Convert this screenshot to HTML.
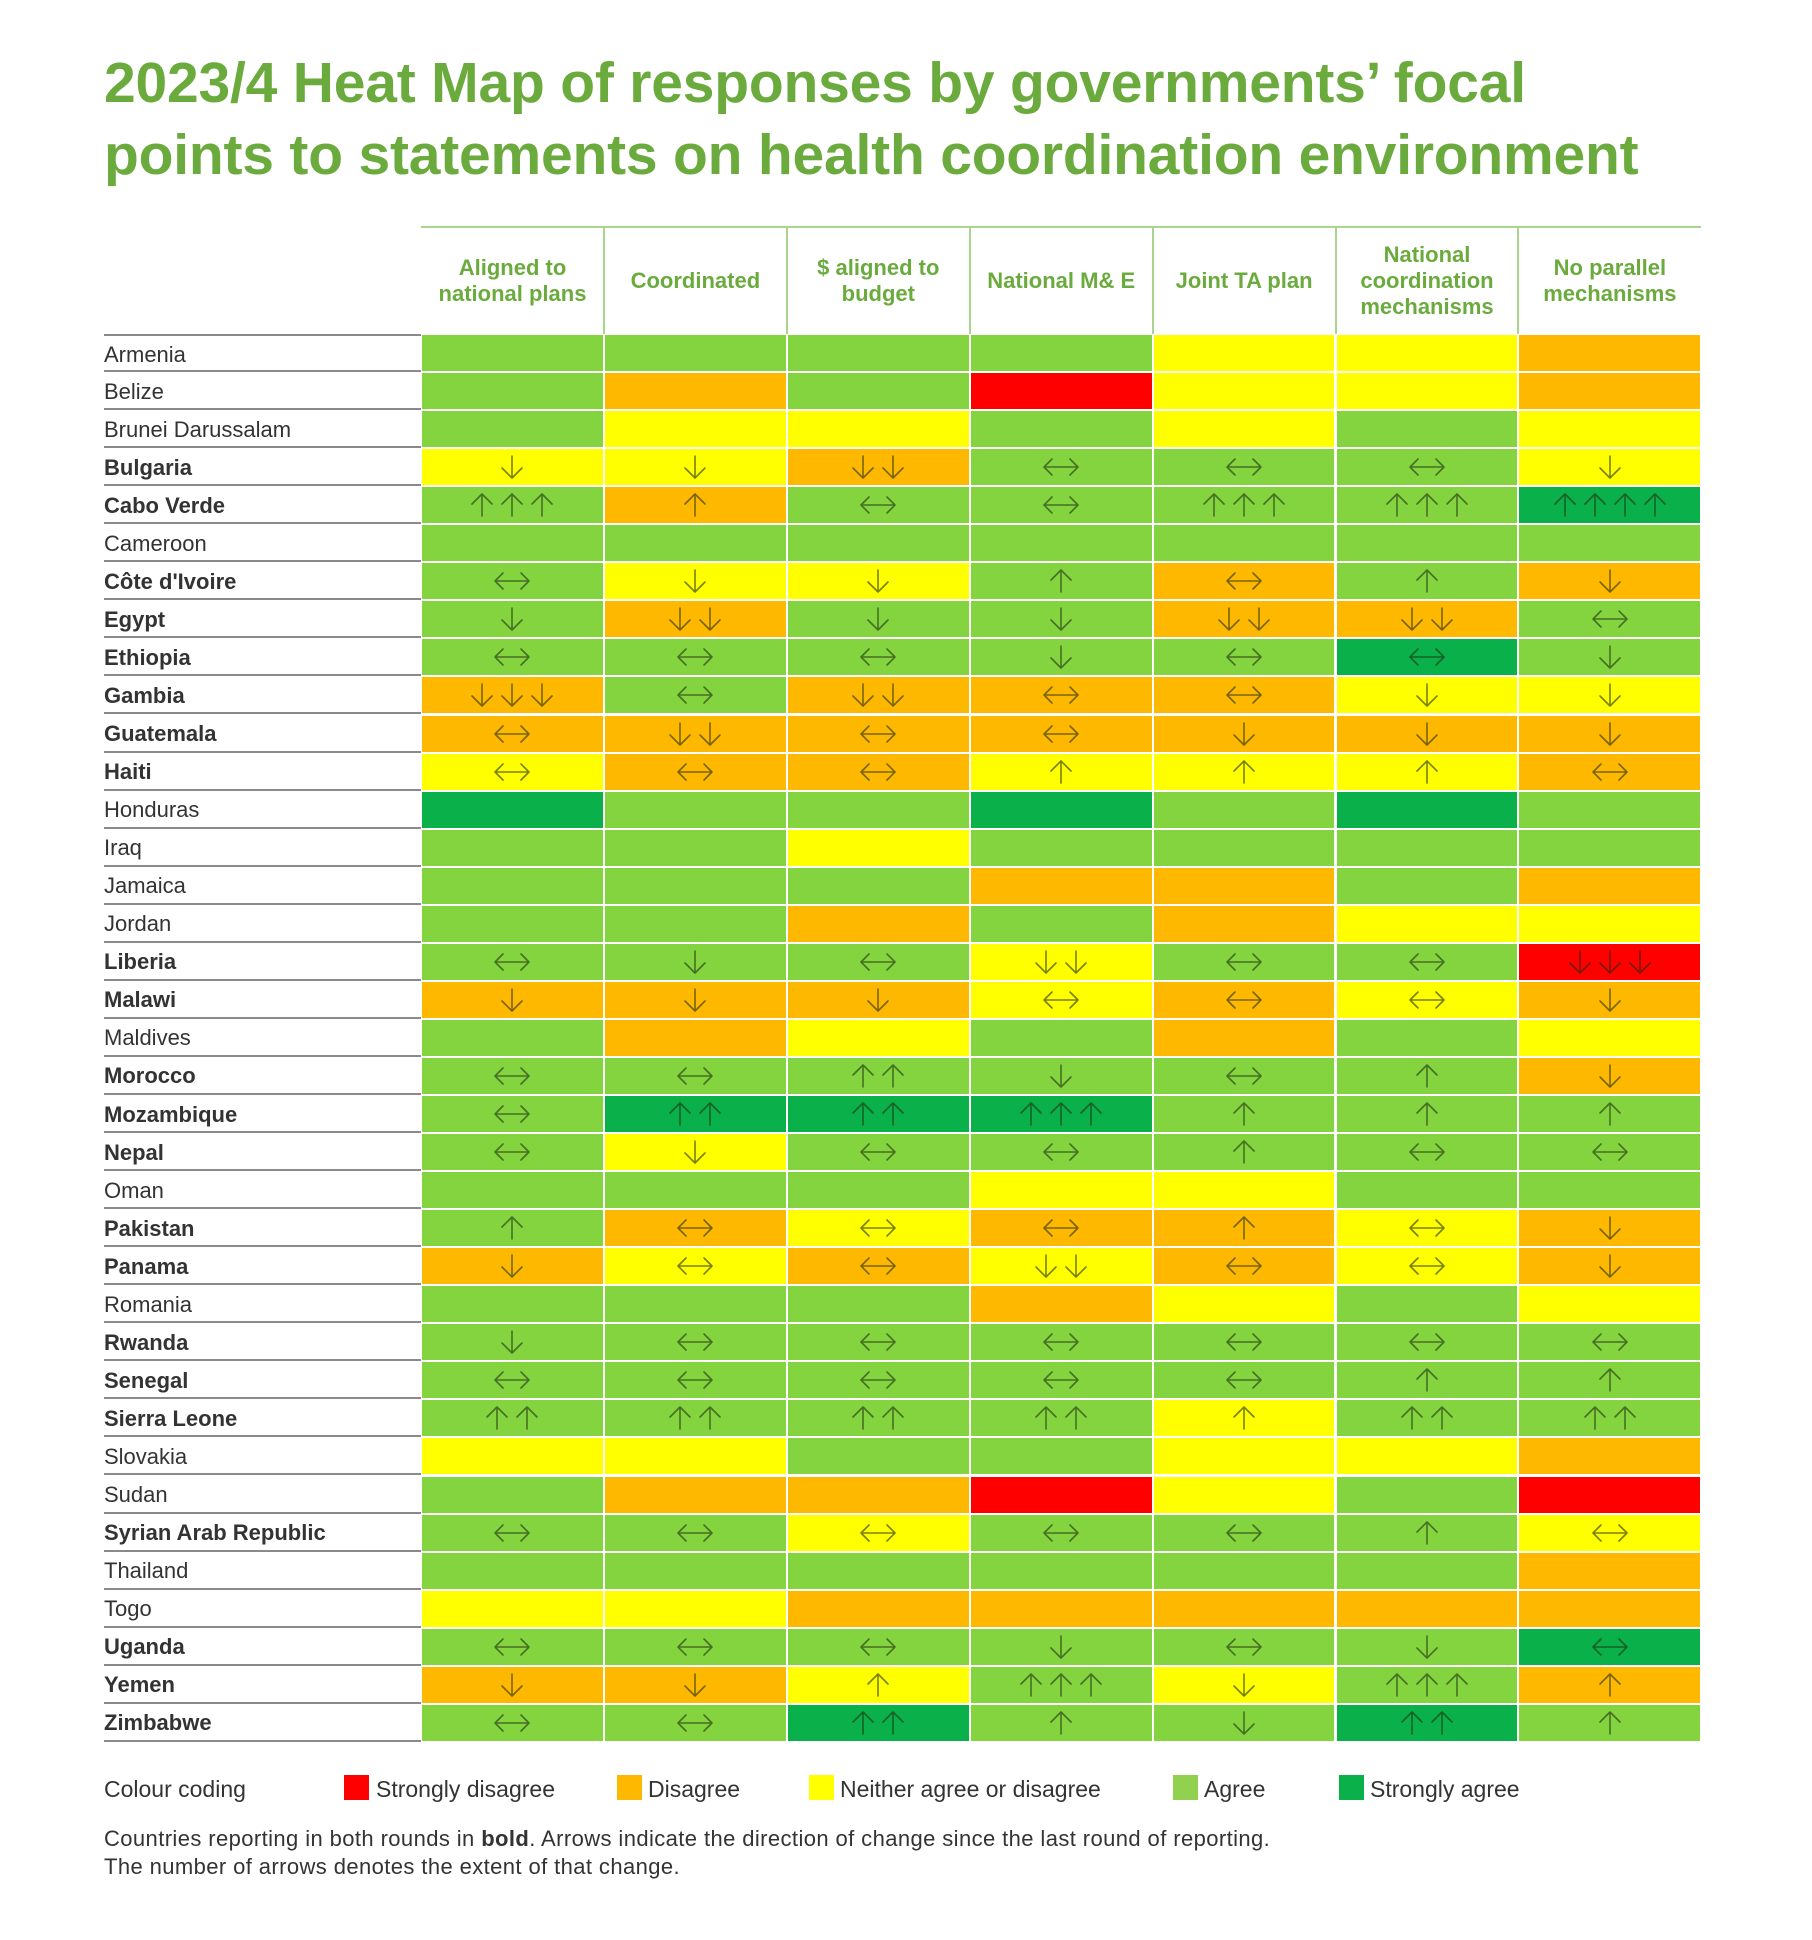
<!DOCTYPE html>
<html><head><meta charset="utf-8">
<style>
body{margin:0;background:#fff;width:1812px;height:1940px;position:relative;overflow:hidden;font-family:"Liberation Sans",sans-serif;}
.abs{position:absolute}
.title{left:104px;font-size:57px;font-weight:bold;color:#6bab3e;white-space:nowrap;letter-spacing:-0.2px}
.hdr{position:absolute;top:228px;height:106px;width:183px;display:flex;align-items:center;justify-content:center;text-align:center;color:#6bab3e;font-weight:bold;font-size:22px;line-height:26px}
.vline{position:absolute;top:228px;height:106px;width:2px;background:#a9d68e}
.lbl{position:absolute;left:104px;width:317px;font-size:22px;color:#333;display:flex;align-items:center;border-bottom:2px solid #8a8a8a;box-sizing:border-box;padding-top:3px}
.cell{position:absolute;display:flex;align-items:center;justify-content:center}
.leg{position:absolute;top:1776px;font-size:23px;color:#333;white-space:nowrap}
.sw{position:absolute;top:1775px;width:25px;height:25px}
.note{position:absolute;left:104px;font-size:22px;color:#333;white-space:nowrap;letter-spacing:0.4px}
</style></head>
<body>
<div class="abs title" style="top:50px">2023/4 Heat Map of responses by governments’ focal</div>
<div class="abs title" style="top:122px">points to statements on health coordination environment</div>
<div class="abs" style="left:421px;top:226px;width:1280px;height:2px;background:#a9d68e"></div>
<div id="chart"></div>

<div class="leg" style="left:104px">Colour coding</div>
<div class="sw" style="left:344px;background:#ff0000"></div>
<div class="leg" style="left:376px">Strongly disagree</div>
<div class="sw" style="left:617px;background:#ffb800"></div>
<div class="leg" style="left:648px">Disagree</div>
<div class="sw" style="left:809px;background:#ffff00"></div>
<div class="leg" style="left:840px">Neither agree or disagree</div>
<div class="sw" style="left:1173px;background:#92d050"></div>
<div class="leg" style="left:1204px">Agree</div>
<div class="sw" style="left:1339px;background:#0ab04a"></div>
<div class="leg" style="left:1370px">Strongly agree</div>

<div class="note" style="top:1826px">Countries reporting in both rounds in <b>bold</b>. Arrows indicate the direction of change since the last round of reporting.</div>
<div class="note" style="top:1854px">The number of arrows denotes the extent of that change.</div>

<script>
const columns = ["Aligned to<br>national plans","Coordinated","$ aligned to<br>budget","National M&amp; E","Joint TA plan","National<br>coordination<br>mechanisms","No parallel<br>mechanisms"];
const countries = ["Armenia","Belize","Brunei Darussalam","Bulgaria","Cabo Verde","Cameroon","Côte d'Ivoire","Egypt","Ethiopia","Gambia","Guatemala","Haiti","Honduras","Iraq","Jamaica","Jordan","Liberia","Malawi","Maldives","Morocco","Mozambique","Nepal","Oman","Pakistan","Panama","Romania","Rwanda","Senegal","Sierra Leone","Slovakia","Sudan","Syrian Arab Republic","Thailand","Togo","Uganda","Yemen","Zimbabwe"];
// response codes: R strongly disagree, O disagree, Y neither, G agree, S strongly agree
const responses = [
"G G G G Y Y O","G O G R Y Y O","G Y Y G Y G Y","Y Y O G G G Y","G O G G G G S","G G G G G G G",
"G Y Y G O G O","G O G G O O G","G G G G G S G","O G O O O Y Y","O O O O O O O","Y O O Y Y Y O",
"S G G S G S G","G G Y G G G G","G G G O O G O","G G O G O Y Y","G G G Y G G R","O O O Y O Y O",
"G O Y G O G Y","G G G G G G O","G S S S G G G","G Y G G G G G","G G G Y Y G G","G O Y O O Y O",
"O Y O Y O Y O","G G G O Y G Y","G G G G G G G","G G G G G G G","G G G G Y G G","Y Y G G Y Y O",
"G O O R Y G R","G G Y G G G Y","G G G G G G O","Y Y O O O O O","G G G G G G S","O O Y G Y G O","G G S G G S G"];
// change codes: number of arrows, d=down u=up h=no change, "-" = no data
const changes = [
"- - - - - - -","- - - - - - -","- - - - - - -","d d dd h h h d","uuu u h h uuu uuu uuuu","- - - - - - -",
"h d d u h u d","d dd d d dd dd h","h h h d h h d","ddd h dd h h d d","h dd h h d d d","h h h u u u h",
"- - - - - - -","- - - - - - -","- - - - - - -","- - - - - - -","h d h dd h h ddd","d d d h h h d",
"- - - - - - -","h h uu d h u d","h uu uu uuu u u u","h d h h u h h","- - - - - - -","u h h h u h d",
"d h h dd h h d","- - - - - - -","d h h h h h h","h h h h h u u","uu uu uu uu u uu uu","- - - - - - -",
"- - - - - - -","h h h h h u h","- - - - - - -","- - - - - - -","h h h d h d h","d d u uuu d uuu u","h h uu u d uu u"];

const colors = {R:"#ff0000",O:"#ffb800",Y:"#ffff00",G:"#84d440",S:"#0ab04a"};
const X0=421, COLW=182.9, Y0=334, ROWH=38.05;
const xPos = c => X0 + c*COLW;
const yPos = r => Y0 + r*ROWH;
const ST='stroke="rgba(30,45,15,0.6)" stroke-width="1.6" fill="none" stroke-linecap="round" stroke-linejoin="round"';
function arrowSvg(code){
  if(code==="-") return "";
  if(code==="h") return '<svg width="40" height="24" viewBox="0 0 40 24"><path d="M3 12 H37 M11 4 L3 12 L11 20 M29 4 L37 12 L29 20" '+ST+'/></svg>';
  const n=code.length, step=30, w=(n-1)*step+24;
  let p="";
  for(let i=0;i<n;i++){
    const cx=12+i*step;
    if(code[i]==="d") p+=`M${cx} 1 V23 M${cx-10} 13 L${cx} 23 L${cx+10} 13 `;
    else p+=`M${cx} 23 V1 M${cx-10} 11 L${cx} 1 L${cx+10} 11 `;
  }
  return `<svg width="${w}" height="24" viewBox="0 0 ${w} 24"><path d="${p}" ${ST}/></svg>`;
}
const root=document.getElementById('chart');
columns.forEach((t,c)=>{
  const h=document.createElement('div');
  h.className='hdr';
  h.style.left=xPos(c)+'px';
  h.innerHTML=t;
  
  
  root.appendChild(h);
  if(c>0){
    const v=document.createElement('div');
    v.className='vline';
    v.style.left=(xPos(c)-1)+'px';
    
    
    root.appendChild(v);
  }
});
countries.forEach((name,r)=>{
  const ch=changes[r].split(" ");
  const bold=ch.some(x=>x!=="-");
  const l=document.createElement('div');
  l.className='lbl';
  l.style.top=(yPos(r))+'px';
  l.style.height=ROWH+'px';
  l.style.borderTop = r===0 ? '2px solid #8a8a8a' : 'none';
  l.style.fontWeight=bold?'bold':'normal';
  l.textContent=name;
  
  
  root.appendChild(l);
  const resp=responses[r].split(" ");
  resp.forEach((code,c)=>{
    const d=document.createElement('div');
    d.className='cell';
    d.style.left=(xPos(c)+1)+'px';
    d.style.top=(yPos(r)+1)+'px';
    d.style.width=(COLW-2)+'px';
    d.style.height=(ROWH-2)+'px';
    d.style.background=colors[code];
    d.innerHTML=arrowSvg(ch[c]);
    
    
    root.appendChild(d);
  });
});
</script>
</body></html>
